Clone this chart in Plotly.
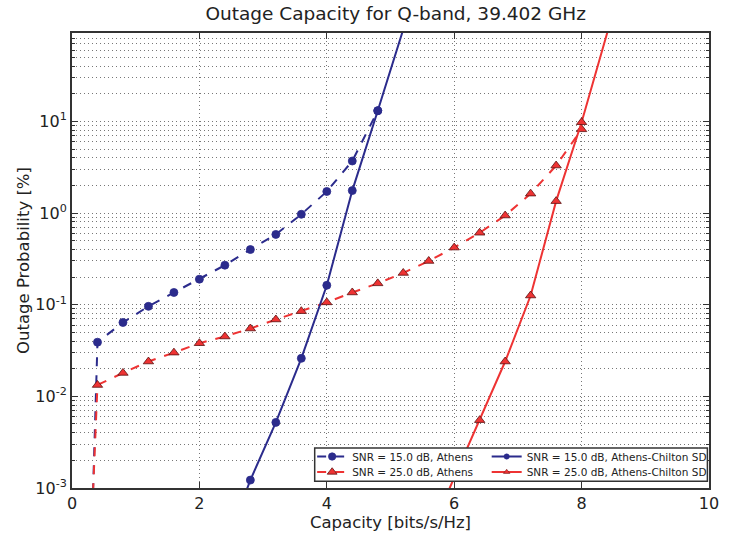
import plotly.graph_objects as go

# ---- data ----
x_athens15 = [0.33, 0.4, 0.8, 1.2, 1.6, 2.0, 2.4, 2.8, 3.2, 3.6, 4.0, 4.4, 4.8]
y_athens15 = [0.0009, 0.039, 0.064, 0.096, 0.136, 0.19, 0.27, 0.40, 0.585, 0.97, 1.72, 3.7, 13.1]
m_athens15 = [0, 1, 1, 1, 1, 1, 1, 1, 1, 1, 1, 1, 1]

x_athens25 = [0.33, 0.4, 0.8, 1.2, 1.6, 2.0, 2.4, 2.8, 3.2, 3.6, 4.0, 4.4, 4.8,
              5.2, 5.6, 6.0, 6.4, 6.8, 7.2, 7.6, 8.0]
y_athens25 = [0.0009, 0.0133, 0.018, 0.024, 0.030, 0.038, 0.045, 0.055, 0.069, 0.085, 0.106,
              0.136, 0.171, 0.222, 0.30, 0.42, 0.61, 0.94, 1.63, 3.3, 8.2]
m_athens25 = [0] + [1] * 20

x_chil15 = [2.7, 2.8, 3.2, 3.6, 4.0, 4.4, 4.8, 5.2, 5.4]
y_chil15 = [0.0008, 0.00122, 0.0052, 0.026, 0.163, 1.76, 13.1, 98, 280]
m_chil15 = [0, 1, 1, 1, 1, 1, 1, 0, 0]

x_chil25 = [5.9, 6.4, 6.8, 7.2, 7.6, 8.0, 8.4, 8.6]
y_chil25 = [0.0009, 0.0055, 0.024, 0.126, 1.35, 9.8, 92, 280]
m_chil25 = [0, 1, 1, 1, 1, 1, 0, 0]

names = ["SNR = 15.0 dB, Athens", "SNR = 15.0 dB, Athens-Chilton SD",
         "SNR = 25.0 dB, Athens", "SNR = 25.0 dB, Athens-Chilton SD"]

y_tickvals = [0.001, 0.01, 0.1, 1, 10]
y_ticktext = ["10<sup>-3</sup>", "10<sup>-2</sup>", "10<sup>-1</sup>", "10<sup>0</sup>", "10<sup>1</sup>"]
x_tickvals = [0, 2, 4, 6, 8, 10]

BLUE = "#2b2b8c"
RED = "#ee3333"
EDGE_R = "#5a1010"

def series(x, y, m, name, color, dash, symbol, size, edge, legend):
    return go.Scatter(
        x=x, y=y, name=name, mode="lines+markers", legend=legend,
        line=dict(color=color, width=2, dash=dash),
        marker=dict(symbol=symbol, color=color, opacity=1,
                    size=[size * k for k in m],
                    line=dict(color=edge, width=[0.8 * k for k in m])),
    )

fig = go.Figure()
fig.add_trace(series(x_athens15, y_athens15, m_athens15, names[0], BLUE, "dash", "circle", 8, BLUE, "legend"))
fig.add_trace(series(x_athens25, y_athens25, m_athens25, names[2], RED, "dash", "triangle-up", 9, EDGE_R, "legend3"))
fig.add_trace(series(x_chil15, y_chil15, m_chil15, names[1], BLUE, "solid", "circle", 8, BLUE, "legend2"))
fig.add_trace(series(x_chil25, y_chil25, m_chil25, names[3], RED, "solid", "triangle-up", 9, EDGE_R, "legend4"))

minor_vals = [k * 10 ** e for e in range(-3, 2) for k in range(2, 10)]

FONT = "DejaVu Sans"
GRID = "#777"
DOT = "1px,3px"
LEG = dict(orientation="v", xanchor="left", yanchor="middle",
           bgcolor="rgba(255,255,255,0)", borderwidth=0,
           font=dict(size=10.5, family=FONT, color="#222"),
           tracegroupgap=0, itemwidth=30)
COL1, COL2 = 0.377, 0.651
ROW1, ROW2 = 0.0692, 0.0351

fig.update_layout(
    width=730, height=540,
    margin=dict(l=71.5, r=10.5, t=33, b=52),
    paper_bgcolor="white", plot_bgcolor="white",
    font=dict(family=FONT, color="#222", size=16),
    title=dict(text="Outage Capacity for Q-band, 39.402 GHz", x=0.542, xanchor="center",
               y=0.975, yanchor="middle", font=dict(size=18.5, family=FONT, color="#222")),
    showlegend=True,
    legend=dict(LEG, x=COL1, y=ROW1),
    legend2=dict(LEG, x=COL2, y=ROW1),
    legend3=dict(LEG, x=COL1, y=ROW2),
    legend4=dict(LEG, x=COL2, y=ROW2),
    shapes=[dict(type="rect", xref="paper", yref="paper", x0=0.381, x1=0.9975,
                 y0=0.015, y1=0.088, line=dict(color="#333", width=1.5),
                 fillcolor="white", layer="above")],
    xaxis=dict(range=[0, 10], tickvals=x_tickvals, ticks="inside", ticklen=6, tickwidth=1,
               tickcolor="#333", showline=True, linecolor="#333", linewidth=2, mirror="ticks",
               showgrid=True, gridcolor=GRID, griddash=DOT, gridwidth=1, zeroline=False,
               title=dict(text="Capacity [bits/s/Hz]", font=dict(size=16.5), standoff=4),
               tickfont=dict(size=16)),
    yaxis=dict(type="log", range=[-3, 1.965], tickvals=y_tickvals, ticktext=y_ticktext,
               ticks="inside", ticklen=6, tickwidth=1, tickcolor="#333",
               showline=True, linecolor="#333", linewidth=2, mirror="ticks",
               showgrid=True, gridcolor=GRID, griddash=DOT, gridwidth=1, zeroline=False,
               minor=dict(tickvals=minor_vals, ticks="inside", ticklen=3, tickcolor="#333",
                          showgrid=True, gridcolor=GRID, griddash=DOT, gridwidth=1),
               title=dict(text="Outage Probability [%]", font=dict(size=16.5), standoff=2),
               tickfont=dict(size=16)),
)

fig.write_html("out.html")
